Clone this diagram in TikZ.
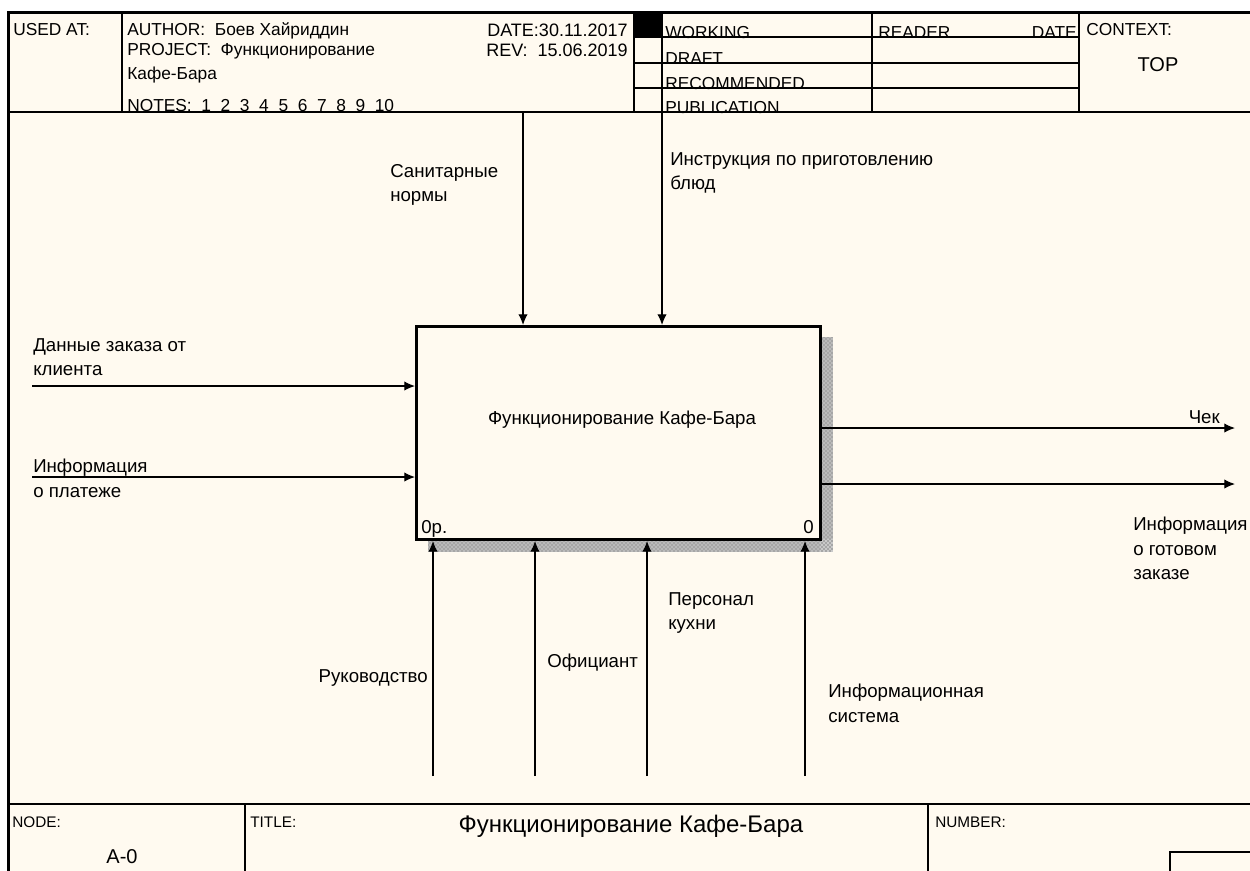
\documentclass[tikz,border=0pt]{standalone}
\usepackage{fontspec}
\setmainfont{Liberation Sans}
\usetikzlibrary{arrows.meta,patterns}
\definecolor{cream}{HTML}{FFFAF0}
\begin{document}
\begin{tikzpicture}[x=0.75pt,y=-0.75pt,
  lbl/.style={font=\fontsize{14}{18.3}\selectfont, inner sep=0pt, align=left},
  hdr/.style={font=\fontsize{13}{15}\selectfont, inner sep=0pt, align=left},
  hdrdate/.style={font=\fontsize{13.5}{15}\selectfont, inner sep=0pt},
  small/.style={font=\fontsize{11.5}{14}\selectfont, inner sep=0pt},
  big/.style={font=\fontsize{15}{18}\selectfont, inner sep=0pt},
  bigtitle/.style={font=\fontsize{18}{20}\selectfont, inner sep=0pt},
  frameline/.style={line width=2.25pt},
  cell/.style={line width=1pt},
  arr/.style={line width=0.9pt, -{Latex[length=8pt,width=7pt]}},
  fnbox/.style={draw, line width=2.25pt, inner sep=0pt, minimum width=303pt, minimum height=159.75pt, anchor=north west},
  shadowbase/.style={fill=black!35},
  shadow/.style={pattern=crosshatch dots, pattern color=white}]
\useasboundingbox (0,0) rectangle (1250,871);
\fill[white] (0,0) rectangle (1250,871);
\fill[cream] (8,12) rectangle (1250,871);
% frame
\draw[frameline] (8,871) -- (8,12.5) -- (1250,12.5);
% header grid
\draw[line width=1.5pt] (8,112) -- (1250,112);
\draw[cell] (122,12) -- (122,112);
\draw[cell] (634,12) -- (634,112);
\draw[cell] (662,12) -- (662,112);
\draw[cell] (872,12) -- (872,112);
\draw[cell] (1079,12) -- (1079,112);
\draw[cell] (634,37) -- (1079,37);
\draw[cell] (634,63) -- (1079,63);
\draw[cell] (634,88) -- (1079,88);
\fill[black] (634,12) rectangle (662,37);
% header text
\node[hdr, anchor=base west] (usedat) at (13,35) {USED AT:};
\node[hdr, anchor=base west] (author) at (127,35) {AUTHOR:\ \ Боев Хайриддин};
\node[hdr, anchor=base west] (project) at (127,55) {PROJECT:\ \ Функционирование};
\node[hdr, anchor=base west] (project2) at (127,79) {Кафе-Бара};
\node[hdr, anchor=base west] (notes) at (127,111) {NOTES:\ \ 1\ \ 2\ \ 3\ \ 4\ \ 5\ \ 6\ \ 7\ \ 8\ \ 9\ \ 10};
\node[hdrdate, anchor=base east] (date) at (628,36) {DATE:30.11.2017};
\node[hdrdate, anchor=base east] (rev) at (628,56) {REV:\ \ 15.06.2019};
\node[hdr, anchor=base west] (working) at (665,38) {WORKING};
\node[hdr, anchor=base west] (draft) at (665,64) {DRAFT};
\node[hdr, anchor=base west] (recom) at (665,89) {RECOMMENDED};
\node[hdr, anchor=base west] (publ) at (665,113) {PUBLICATION};
\node[hdr, anchor=base west] (reader) at (878,38) {READER};
\node[hdr, anchor=base east] (rdate) at (1077,38) {DATE};
\node[hdr, anchor=base west] (context) at (1086,35) {CONTEXT:};
\node[big] (top) at (1158,65) {TOP};
% bottom block
\draw[line width=1.5pt] (8,804) -- (1250,804);
\draw[cell] (245,804) -- (245,871);
\draw[cell] (928,804) -- (928,871);
\draw[cell] (1250,852) -- (1170,852) -- (1170,871);
\node[small, anchor=base west] (nodelbl) at (12,827) {NODE:};
\node[big] (a0) at (122,857) {A-0};
\node[small, anchor=base west] (titlelbl) at (250,827) {TITLE:};
\node[bigtitle] (title) at (631,826) {Функционирование Кафе-Бара};
\node[small, anchor=base west] (numlbl) at (935,827) {NUMBER:};
% function box with shadow
\fill[shadowbase] (820,337) rectangle (833,552);
\fill[shadowbase] (428,539.5) rectangle (833,552);
\fill[shadow] (820,337) rectangle (833,552);
\fill[shadow] (428,539.5) rectangle (833,552);
\fill[cream] (415,325) rectangle (819,538);
\node[fnbox] (fn) at (415,325) {};
\node[lbl] (fntext) at (622,420) {Функционирование Кафе-Бара};
\node[lbl, anchor=base west] (op) at (421,533) {0р.};
\node[lbl, anchor=base east] (zero) at (814,533) {0};
% coordinates of free ends
\coordinate (c1) at (523,113);
\coordinate (c2) at (662,113);
\coordinate (i1) at (32,386);
\coordinate (i2) at (32,477);
\coordinate (o1) at (1235,428);
\coordinate (o2) at (1235,484);
\coordinate (m1) at (433,776);
\coordinate (m2) at (535,776);
\coordinate (m3) at (647,776);
\coordinate (m4) at (805,776);
% arrows
\draw[arr] (c1) -- (c1 |- fn.north);
\draw[arr] (c2) -- (c2 |- fn.north);
\draw[arr] (i1) -- (i1 -| fn.west);
\draw[arr] (i2) -- (i2 -| fn.west);
\draw[arr] (o1 -| fn.east) -- (o1);
\draw[arr] (o2 -| fn.east) -- (o2);
\draw[arr] (m1) -- (m1 |- fn.south);
\draw[arr] (m2) -- (m2 |- fn.south);
\draw[arr] (m3) -- (m3 |- fn.south);
\draw[arr] (m4) -- (m4 |- fn.south);
% labels
\node[lbl, anchor=north west] (l1) at (390,164) {Санитарные\\нормы};
\node[lbl, anchor=north west] (l2) at (670,152) {Инструкция по приготовлению\\блюд};
\node[lbl, anchor=north west] (l3) at (33,338) {Данные заказа от\\клиента};
\node[lbl, anchor=north west] (l4) at (33,459) {Информация\\о платеже};
\node[lbl, anchor=base east] (l5) at (1220,423) {Чек};
\node[lbl, anchor=north west] (l6) at (1133,517) {Информация\\о готовом\\заказе};
\node[lbl, anchor=north east] (l7) at (428,669) {Руководство};
\node[lbl, anchor=north west] (l8) at (547,654) {Официант};
\node[lbl, anchor=north west] (l9) at (668,592) {Персонал\\кухни};
\node[lbl, anchor=north west] (l10) at (828,684) {Информационная\\система};
\end{tikzpicture}
\end{document}
